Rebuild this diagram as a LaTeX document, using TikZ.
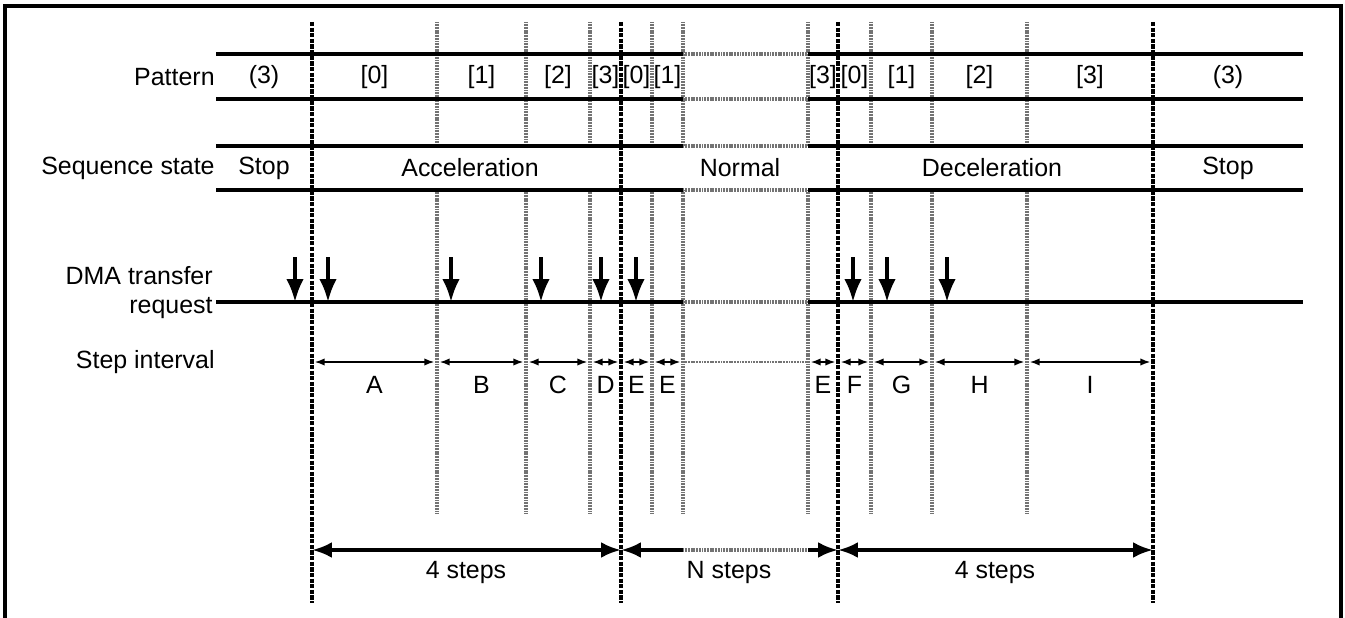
\documentclass[tikz,border=0pt]{standalone}
\usepackage{fontspec}
\setmainfont{Liberation Sans}
\usepackage{tikz}
\usetikzlibrary{arrows.meta,calc}

\begin{document}
\begin{tikzpicture}[x=0.02cm,y=-0.02cm,>=Latex,inner sep=0pt,font=\fontsize{14.2}{16.5}\selectfont]
\tikzstyle{rule}=[line width=2.1pt]
\tikzstyle{gap}=[line width=2.1pt,black!55,dash pattern=on 0.6pt off 0.3pt]
\tikzstyle{phase}=[line width=2pt,dash pattern=on 2.4pt off 0.8pt]
\tikzstyle{tick}=[line width=1.8pt,black!55,dash pattern=on 0.6pt off 0.3pt]
\tikzstyle{span}=[line width=0.95pt,{Latex[length=5.7pt,width=4.2pt]}-{Latex[length=5.7pt,width=4.2pt]},shorten <=1.5pt,shorten >=1.5pt]
\tikzstyle{tot}=[line width=2.1pt]
\tikzstyle{req}=[line width=2.1pt,-{Latex[length=13pt,width=10pt]}]
\useasboundingbox (0,0) rectangle (1345,618);
\draw[line width=2.3pt] (5,640) -- (5,6) -- (1341,6) -- (1341,640);
\coordinate (L) at (216,22);
\coordinate (R) at (1303,22);
\foreach \n/\x in {p1/312,p2/621,p3/838,p4/1153}
  \coordinate (\n) at (\x,22);
\foreach \n/\x in {t1/437,t2/526,t3/590,t4/652,t5/683,t6/808,t7/871,t8/932,t9/1027}
  \coordinate (\n) at (\x,22);
\coordinate (r1) at (0,54);
\coordinate (r2) at (0,99);
\coordinate (r3) at (0,146);
\coordinate (r4) at (0,190);
\coordinate (dma) at (0,302);
\coordinate (si) at (0,362);
\coordinate (sum) at (0,550);
\coordinate (pbot) at (0,603);
\coordinate (tbot) at (0,513);
\foreach \n in {t1,t2,t3,t4,t5,t6,t7,t8,t9} {
  \draw[tick] (\n) -- (\n |- r3);
  \draw[tick] (\n |- r4) -- (\n |- tbot);
}
\foreach \r in {r1,r2,r3,r4,dma} {
  \draw[rule] (L |- \r) -- (t5 |- \r);
  \draw[gap] (t5 |- \r) -- (t6 |- \r);
  \draw[rule] (t6 |- \r) -- (R |- \r);
}
\foreach \n in {p1,p2,p3,p4}
  \draw[phase] (\n) -- (\n |- pbot);
\node[anchor=east] (lpat) at (215,77) {Pattern};
\node[anchor=east] (lseq) at (215,168) {Sequence state};
\node[anchor=east,align=right] (ldma) at (213,293) {DMA transfer\\request};
\node[anchor=east] (lstep) at (215,362) {Step interval};
\foreach \a/\b/\t [count=\i] in {L/p1/{(3)},p1/t1/{[0]},t1/t2/{[1]},t2/t3/{[2]},t3/p2/{[3]},p2/t4/{[0]},t4/t5/{[1]},t6/p3/{[3]},p3/t7/{[0]},t7/t8/{[1]},t8/t9/{[2]},t9/p4/{[3]},p4/R/{(3)}}
  \node (pat\i) at ($(\a |- 0,77)!0.5!(\b |- 0,77)$) {\t};
\node (seq1) at (264,168) {Stop};
\node (seq2) at (470,168) {Acceleration};
\node (seq3) at (740,168) {Normal};
\node (seq4) at (992,168) {Deceleration};
\node (seq5) at (1228,168) {Stop};
\foreach \x [count=\i] in {295,328,451,541,601,636,853,887,947} {
  \coordinate (q\i) at (\x,257);
  \draw[req] (q\i) -- (q\i |- dma);
}
\foreach \a/\b/\t [count=\i] in {p1/t1/A,t1/t2/B,t2/t3/C,t3/p2/D,p2/t4/E,t4/t5/E,t6/p3/E,p3/t7/F,t7/t8/G,t8/t9/H,t9/p4/I} {
  \draw[span] (\a |- si) -- (\b |- si);
  \node (iv\i) at ($(\a |- 0,385)!0.5!(\b |- 0,385)$) {\t};
}
\draw[line width=1.2pt,black!55,dash pattern=on 0.6pt off 0.3pt] (t5 |- si) -- (t6 |- si);
\draw[tot,{Latex[length=11.3pt,width=9pt]}-{Latex[length=11.3pt,width=9pt]}] (p1 |- sum) -- (p2 |- sum);
\draw[tot,{Latex[length=11.3pt,width=9pt]}-] (p2 |- sum) -- (t5 |- sum);
\draw[gap] (t5 |- sum) -- (t6 |- sum);
\draw[tot,-{Latex[length=11.3pt,width=9pt]}] (t6 |- sum) -- (p3 |- sum);
\draw[tot,{Latex[length=11.3pt,width=9pt]}-{Latex[length=11.3pt,width=9pt]}] (p3 |- sum) -- (p4 |- sum);
\node (st1) at (466,573) {4 steps};
\node (st2) at (729,573) {N steps};
\node (st3) at (995,573) {4 steps};
\end{tikzpicture}
\end{document}
